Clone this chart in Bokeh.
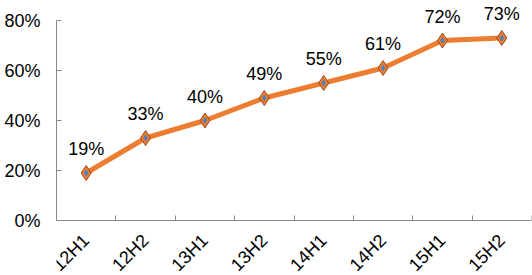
import math
from bokeh.plotting import figure
from bokeh.models import ColumnDataSource, PrintfTickFormatter, Range1d, FixedTicker, LabelSet
from bokeh.core.properties import value
from bokeh.embed import file_html
from bokeh.resources import INLINE

categories = ["12H1", "12H2", "13H1", "13H2", "14H1", "14H2", "15H1", "15H2"]
values = [19, 33, 40, 49, 55, 61, 72, 73]
labels = ["19%", "33%", "40%", "49%", "55%", "61%", "72%", "73%"]
y_ticks = [0, 20, 40, 60, 80]

FONT = "Liberation Sans"

n = len(categories)
xs = [i + 0.5 for i in range(n)]

p = figure(width=532, height=275, x_range=Range1d(0, n),
           y_range=Range1d(-22, 88), output_backend="svg", toolbar_location=None,
           min_border_left=56, min_border_right=1, min_border_top=0, min_border_bottom=0)
p.outline_line_color = None
p.xgrid.grid_line_color = None
p.ygrid.grid_line_color = None

src = ColumnDataSource(dict(x=xs, y=values, label=labels))
p.line("x", "y", source=src, line_color="#ED7D31", line_width=5)
p.scatter("x", "y", source=src, marker="diamond", size=15, fill_color="#ED7D31",
          line_color="#9C4A1A", line_width=1)
p.scatter("x", "y", source=src, marker="diamond", size=7, fill_color="#4F81BD",
          line_color=None)
p.add_layout(LabelSet(x="x", y="y", text="label", source=src, text_align="center",
                      text_baseline="alphabetic", y_offset=18, text_font=value(FONT),
                      text_font_size="18px", text_color="#000000"))

for ax in (p.xaxis[0], p.yaxis[0]):
    ax.axis_line_color = "#898989"
    ax.axis_line_width = 1
    ax.major_tick_line_color = "#898989"
    ax.major_tick_in = 5
    ax.major_tick_out = 0
    ax.minor_tick_line_color = None
    ax.major_label_text_font = FONT
    ax.major_label_text_font_size = "18px"
    ax.major_label_text_color = "#000000"

yax = p.yaxis[0]
yax.ticker = y_ticks
yax.formatter = PrintfTickFormatter(format="%d%%")
yax.major_label_standoff = 16
yax.bounds = (y_ticks[0], y_ticks[-1])

xax = p.xaxis[0]
xax.fixed_location = 0
xax.ticker = FixedTicker(ticks=xs, minor_ticks=list(range(n + 1)))
xax.major_label_overrides = {x: c for x, c in zip(xs, categories)}
xax.major_tick_line_color = None
xax.minor_tick_line_color = "#898989"
xax.minor_tick_in = 5
xax.minor_tick_out = 0
xax.major_label_orientation = math.pi / 4
xax.major_label_standoff = 17

open("out.html", "w").write(file_html(p, INLINE))
